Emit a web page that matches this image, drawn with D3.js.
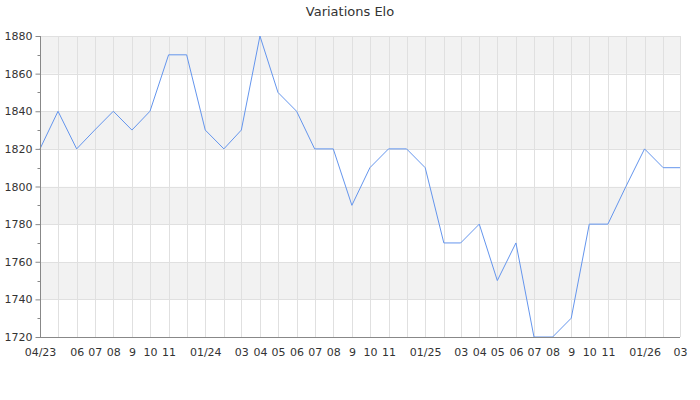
<!DOCTYPE html>
<html>
<head>
<meta charset="utf-8">
<script src="https://cdn.jsdelivr.net/npm/d3@7"></script>
<style>
  body { margin: 0; background: #fff; }
  svg { display: block; font-family: "DejaVu Sans", sans-serif; }
</style>
</head>
<body>
<svg id="chart" width="700" height="400"></svg>
<script>
const months = ["2023-04","2023-05","2023-06","2023-07","2023-08","2023-09","2023-10","2023-11","2023-12",
  "2024-01","2024-02","2024-03","2024-04","2024-05","2024-06","2024-07","2024-08","2024-09","2024-10","2024-11","2024-12",
  "2025-01","2025-02","2025-03","2025-04","2025-05","2025-06","2025-07","2025-08","2025-09","2025-10","2025-11","2025-12",
  "2026-01","2026-02","2026-03"];
const elo = [1820,1840,1820,1830,1840,1830,1840,1870,1870,
  1830,1820,1830,1880,1850,1840,1820,1820,1790,1810,1820,1820,
  1810,1770,1770,1780,1750,1770,1720,1720,1730,1780,1780,1800,
  1820,1810,1810];
const xTickLabels = ["04/23","","06","07","08","9","10","11","",
  "01/24","","03","04","05","06","07","08","9","10","11","",
  "01/25","","03","04","05","06","07","08","9","10","11","",
  "01/26","","03"];
const yTicks = [1720,1740,1760,1780,1800,1820,1840,1860,1880];
const yMinorTicks = [1730,1750,1770,1790,1810,1830,1850,1870];
const title = "Variations Elo";

const parse = d3.utcParse("%Y-%m");
const dates = months.map(parse);

const svg = d3.select("#chart");
const L = 40, R = 680, T = 36, B = 337;

const x = d3.scaleUtc().domain([dates[0], dates[dates.length-1]]).range([L, R]);
const y = d3.scaleLinear().domain([1720, 1880]).range([B, T]);

// alternating bands
const bands = yTicks.slice(0, -1).map((v, i) => ({lo: v, hi: yTicks[i+1], i}));
svg.append("g").selectAll("rect").data(bands).join("rect")
  .attr("x", L).attr("width", R - L)
  .attr("y", d => y(d.hi)).attr("height", d => y(d.lo) - y(d.hi))
  .attr("fill", d => d.i % 2 === 0 ? "#ffffff" : "#f2f2f2");

// horizontal grid
svg.append("g").selectAll("line").data(yTicks).join("line")
  .attr("x1", L).attr("x2", R)
  .attr("y1", d => Math.round(y(d)) + 0.5).attr("y2", d => Math.round(y(d)) + 0.5)
  .attr("stroke", "#e0e0e0").attr("stroke-width", 1);

// vertical grid
svg.append("g").selectAll("line").data(dates).join("line")
  .attr("x1", d => Math.round(x(d)) + 0.5).attr("x2", d => Math.round(x(d)) + 0.5)
  .attr("y1", T).attr("y2", B)
  .attr("stroke", "#e0e0e0").attr("stroke-width", 1);

// line
const line = d3.line().x((d, i) => x(dates[i])).y(d => y(d));
svg.append("path").datum(elo)
  .attr("fill", "none").attr("stroke", "#6495ed").attr("stroke-width", 1)
  .attr("d", line);

// y axis
const yAxis = svg.append("g").attr("transform", `translate(${L + 0.5},0)`)
  .call(d3.axisLeft(y).tickValues(yTicks).tickSize(5).tickPadding(3).tickFormat(d3.format("d")));
yAxis.select(".domain").attr("stroke", "#888").attr("d", `M0,${T}V${B}`);
yAxis.selectAll(".tick line").attr("stroke", "#888");
yAxis.selectAll(".tick text").attr("fill", "#333").style("font-size", "11px").style("font-family", "DejaVu Sans");
yAxis.append("g").selectAll("line").data(yMinorTicks).join("line")
  .attr("x1", -3).attr("x2", 0)
  .attr("y1", d => Math.round(y(d)) + 0.5).attr("y2", d => Math.round(y(d)) + 0.5)
  .attr("stroke", "#888");

// x axis
const xAxis = svg.append("g").attr("transform", `translate(0,${B + 0.5})`)
  .call(d3.axisBottom(x).tickValues(dates).tickSize(0).tickPadding(11)
    .tickFormat((d, i) => xTickLabels[i]));
xAxis.select(".domain").attr("stroke", "#888").attr("d", `M${L},0H${R}`);
xAxis.selectAll(".tick text").attr("fill", "#333").style("font-size", "11px").style("font-family", "DejaVu Sans");

// title
svg.append("text").attr("x", 350).attr("y", 16).attr("text-anchor", "middle")
  .attr("fill", "#333").style("font-size", "13px").style("font-family", "DejaVu Sans")
  .text(title);
</script>
</body>
</html>
